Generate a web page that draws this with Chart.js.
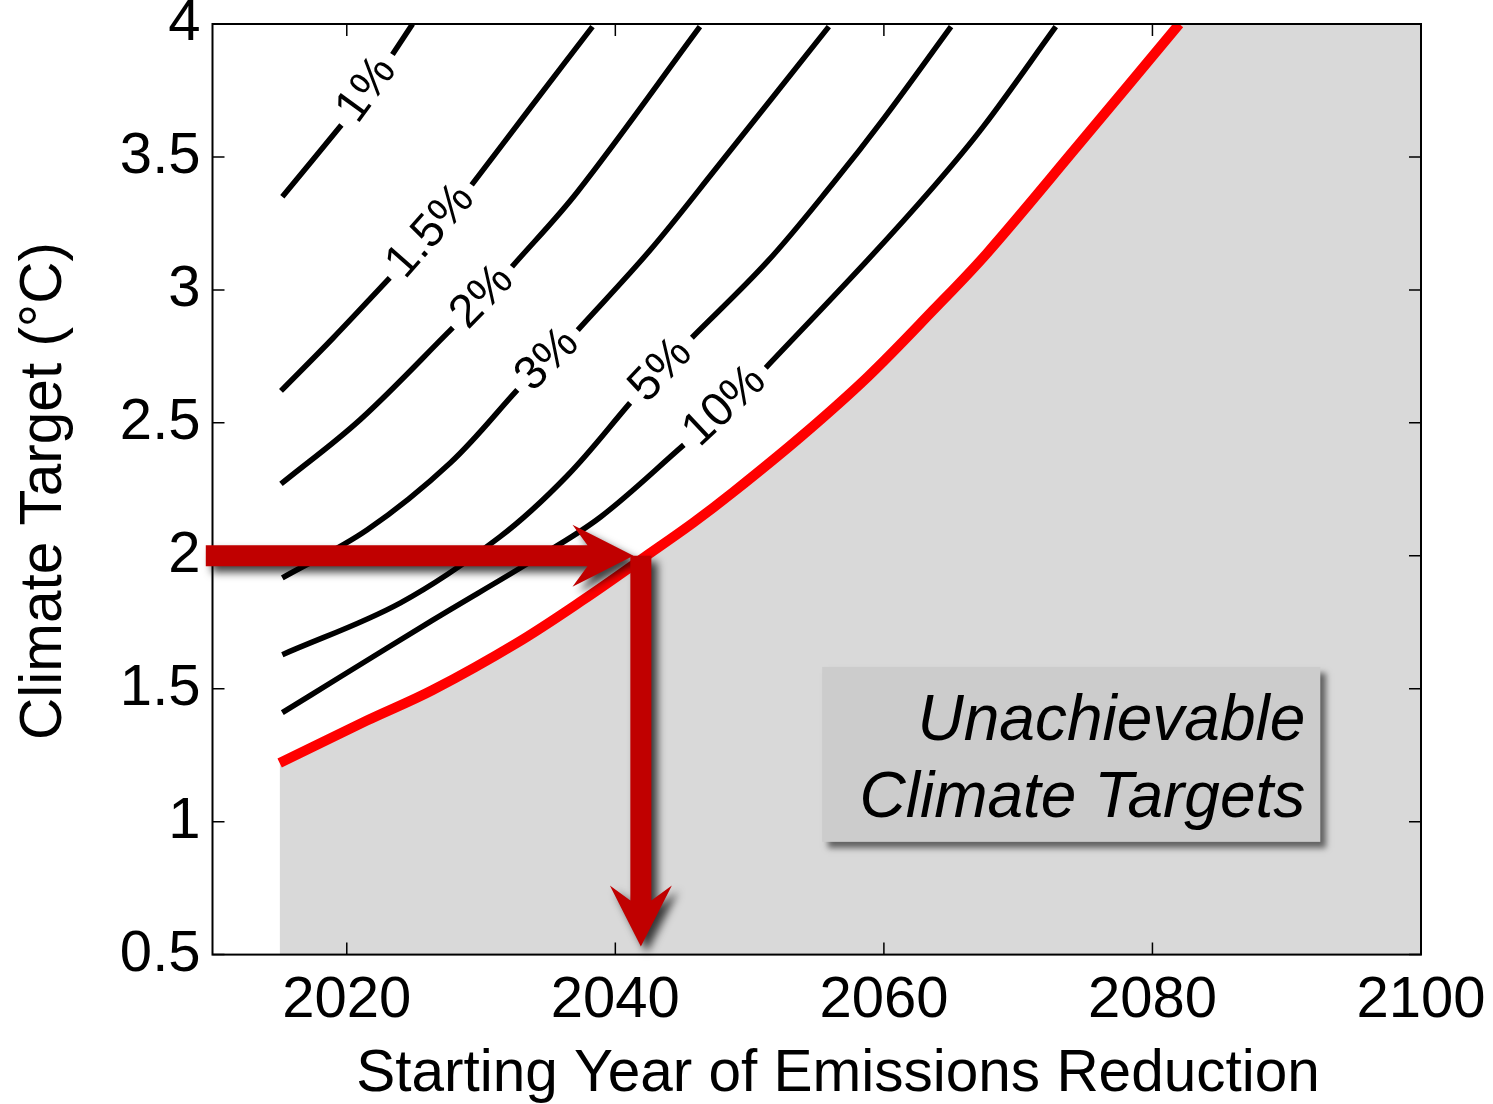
<!DOCTYPE html>
<html>
<head>
<meta charset="utf-8">
<script src="https://cdn.jsdelivr.net/npm/chart.js@4.4.1/dist/chart.umd.min.js"></script>
<style>
  html, body { margin: 0; padding: 0; background: #fff; }
</style>
</head>
<body>
<canvas id="chart" width="1493" height="1104"></canvas>
<script>
const FONT = '"Liberation Sans", Arial, Helvetica, sans-serif';

const xTicks = [2020, 2040, 2060, 2080, 2100];
const yTicks = [0.5, 1, 1.5, 2, 2.5, 3, 3.5, 4];
const contourLabels = ['1%', '1.5%', '2%', '3%', '5%', '10%'];

// contour lines: null marks where the inline label sits
const rate1Years = [2015.2, 2019.6, 2021.5, 2023.4, 2024.9];
const rate1Temps = [3.35, 3.62, null, 3.885, 4.0];

const rate15Years = [2015.1, 2019.0, 2023.2, 2026.3, 2029.3, 2033.9, 2038.3];
const rate15Temps = [2.62, 2.82, 3.045, null, 3.395, 3.70, 3.99];

const rate2Years = [2015.1, 2021.0, 2027.9, 2030.1, 2032.3, 2037.2, 2046.3];
const rate2Temps = [2.27, 2.512, 2.858, null, 3.087, 3.37, 3.99];

const rate3Years = [2015.2, 2021.5, 2027.7, 2032.7, 2035.0, 2037.2, 2042.6, 2047.6, 2055.9];
const rate3Temps = [1.917, 2.097, 2.349, 2.624, null, 2.849, 3.15, 3.463, 3.99];

const rate5Years = [2015.2, 2024.0, 2031.4, 2036.4, 2041.1, 2043.4, 2045.7, 2051.3, 2056.2, 2060.0, 2065.0];
const rate5Temps = [1.628, 1.823, 2.071, 2.30, 2.575, null, 2.82, 3.105, 3.40, 3.645, 3.99];

const rate10Years = [2015.2, 2019.5, 2026.4, 2033.9, 2038.9, 2045.1, 2048.1, 2051.2, 2058.8, 2063.7, 2067.4, 2072.8];
const rate10Temps = [1.41, 1.544, 1.758, 1.984, 2.146, 2.417, null, 2.707, 3.113, 3.388, 3.614, 3.99];

// achievable limit (red); everything below / right of it is unachievable
const limitYears = [2015.0, 2021.5, 2026.4, 2032.7, 2037.6, 2042.2, 2045.8, 2048.8, 2053.8, 2058.8, 2063.7, 2067.7, 2074.4, 2082.0];
const limitTemps = [1.221, 1.38, 1.495, 1.673, 1.834, 1.996, 2.124, 2.24, 2.447, 2.673, 2.925, 3.139, 3.54, 4.0];
const lateYears = [2081.6, 2100];
const lateTemps = [4.0, 4.0];

// annotation anchors (data units)
const arrowCorner = { year: 2041.9, temp: 2.0 };
const arrowStartYear = 2009.5;
const arrowTipYear = 2041.35;
const arrowEndTemp = 0.53;
const noteBox = { from: 2055.4, to: 2092.5, top: 1.582, bottom: 0.924 };
const noteLines = ['Unachievable', 'Climate Targets'];

const contours = [
  [rate1Years, rate1Temps], [rate15Years, rate15Temps], [rate2Years, rate2Temps],
  [rate3Years, rate3Temps], [rate5Years, rate5Temps], [rate10Years, rate10Temps]
];
const toPoints = (xs, ys) => xs.map((v, i) => ({ x: v, y: ys[i] }));

const GRAY = '#d9d9d9';
const datasets = [{
  // red limit, filled down to the x axis
  data: toPoints(limitYears, limitTemps),
  fill: 'start',
  backgroundColor: GRAY,
  borderColor: '#ff0000',
  borderWidth: 10,
  pointRadius: 0,
  tension: 0.35,
  order: 0,
  clip: 0
}, {
  // rest of the unachievable area after the red line leaves the top
  data: toPoints(lateYears, lateTemps),
  fill: 'start',
  backgroundColor: GRAY,
  borderWidth: 0,
  borderColor: GRAY,
  pointRadius: 0,
  tension: 0,
  order: 5,
  clip: 0
}];
contours.forEach(([xs, ys]) => {
  datasets.push({
    data: toPoints(xs, ys),
    fill: false,
    borderColor: '#000',
    borderWidth: 5.5,
    pointRadius: 0,
    spanGaps: false,
    tension: 0.35,
    order: 1,
    clip: 0
  });
});

function drawArrowPath(ctx, pts) {
  ctx.beginPath();
  pts.forEach(([px, py], i) => i ? ctx.lineTo(px, py) : ctx.moveTo(px, py));
  ctx.closePath();
  ctx.fill();
}

const overlayPlugin = {
  id: 'overlay',
  afterDatasetsDraw(chart) {
    const { ctx, chartArea: area, scales: { x, y } } = chart;

    // inline contour labels
    ctx.save();
    ctx.font = `47px ${FONT}`;
    ctx.fillStyle = '#000';
    ctx.textAlign = 'center';
    ctx.textBaseline = 'middle';
    contours.forEach(([xs, ys], k) => {
      const g = ys.indexOf(null);
      const ax = x.getPixelForValue(xs[g - 1]), ay = y.getPixelForValue(ys[g - 1]);
      const bx = x.getPixelForValue(xs[g + 1]), by = y.getPixelForValue(ys[g + 1]);
      ctx.save();
      ctx.translate((ax + bx) / 2, (ay + by) / 2);
      ctx.rotate(Math.atan2(by - ay, bx - ax));
      ctx.fillText(contourLabels[k], 0, 0);
      ctx.restore();
    });
    ctx.restore();

    // frame with inward ticks
    ctx.save();
    ctx.strokeStyle = '#000';
    ctx.lineWidth = 2;
    ctx.strokeRect(area.left, area.top, area.width, area.height);
    ctx.lineWidth = 1.5;
    ctx.beginPath();
    xTicks.forEach(v => {
      const px = x.getPixelForValue(v);
      ctx.moveTo(px, area.bottom); ctx.lineTo(px, area.bottom - 12);
      ctx.moveTo(px, area.top); ctx.lineTo(px, area.top + 12);
    });
    yTicks.forEach(v => {
      const py = y.getPixelForValue(v);
      ctx.moveTo(area.left, py); ctx.lineTo(area.left + 12, py);
      ctx.moveTo(area.right, py); ctx.lineTo(area.right - 12, py);
    });
    ctx.stroke();
    ctx.restore();

    // note box
    const l = x.getPixelForValue(noteBox.from), r = x.getPixelForValue(noteBox.to);
    const t = y.getPixelForValue(noteBox.top), b = y.getPixelForValue(noteBox.bottom);
    ctx.save();
    ctx.shadowColor = 'rgba(0,0,0,0.55)';
    ctx.shadowBlur = 6;
    ctx.shadowOffsetX = 6;
    ctx.shadowOffsetY = 6;
    ctx.fillStyle = '#cccccc';
    ctx.fillRect(l, t, r - l, b - t);
    ctx.restore();
    ctx.save();
    ctx.font = `italic 64px ${FONT}`;
    ctx.fillStyle = '#000';
    ctx.textAlign = 'right';
    ctx.textBaseline = 'alphabetic';
    ctx.fillText(noteLines[0], r - 15, t + 73);
    ctx.fillText(noteLines[1], r - 15, t + 150);
    ctx.restore();

    // arrows
    const cx = x.getPixelForValue(arrowCorner.year);
    const cy = y.getPixelForValue(arrowCorner.temp);
    const x0 = x.getPixelForValue(arrowStartYear);
    const tipX = x.getPixelForValue(arrowTipYear);
    const tipY = y.getPixelForValue(arrowEndTemp);
    const hw = 10.5, head = 61, barb = 31, notch = 15;
    ctx.save();
    ctx.fillStyle = '#c00000';
    ctx.shadowColor = 'rgba(0,0,0,0.75)';
    ctx.shadowBlur = 9;
    ctx.shadowOffsetX = 6;
    ctx.shadowOffsetY = 6;
    drawArrowPath(ctx, [
      [x0, cy - hw], [tipX - head + notch, cy - hw], [tipX - head, cy - barb],
      [tipX, cy], [tipX - head, cy + barb], [tipX - head + notch, cy + hw], [x0, cy + hw]
    ]);
    drawArrowPath(ctx, [
      [cx - hw, cy], [cx + hw, cy], [cx + hw, tipY - head + notch], [cx + barb, tipY - head],
      [cx, tipY], [cx - barb, tipY - head], [cx - hw, tipY - head + notch]
    ]);
    ctx.restore();

    // axis titles
    ctx.save();
    ctx.fillStyle = '#000';
    ctx.font = `58.5px ${FONT}`;
    ctx.textAlign = 'center';
    ctx.textBaseline = 'alphabetic';
    ctx.fillText('Starting Year of Emissions Reduction', 838, 1091);
    ctx.translate(61, 491);
    ctx.rotate(-Math.PI / 2);
    ctx.fillText('Climate Target (\u00B0C)', 0, 0);
    ctx.restore();
  }
};

new Chart(document.getElementById('chart'), {
  type: 'line',
  data: { datasets },
  options: {
    responsive: false,
    animation: false,
    layout: { autoPadding: false, padding: { top: 24, right: 72, left: 0, bottom: 0 } },
    plugins: { legend: { display: false }, tooltip: { enabled: false } },
    scales: {
      x: {
        type: 'linear',
        min: 2010,
        max: 2100,
        afterBuildTicks: s => { s.ticks = xTicks.map(v => ({ value: v })); },
        afterFit: s => {
          s.height = 149.4;
          s.paddingLeft = 0;
          s.paddingRight = 0;
        },
        grid: { display: false, drawTicks: false },
        border: { display: false },
        ticks: {
          color: '#000',
          padding: 17,
          maxRotation: 0,
          autoSkip: false,
          font: { family: FONT, size: 58, lineHeight: 1 },
          callback: v => String(v)
        }
      },
      y: {
        type: 'linear',
        min: 0.5,
        max: 4,
        afterBuildTicks: s => { s.ticks = yTicks.map(v => ({ value: v })); },
        afterFit: s => {
          s.width = 212.5;
          s.paddingTop = 0;
          s.paddingBottom = 0;
        },
        grid: { display: false, drawTicks: false },
        border: { display: false },
        ticks: {
          color: '#000',
          padding: 12,
          autoSkip: false,
          font: { family: FONT, size: 58, lineHeight: 0.8 },
          callback: v => String(v)
        }
      }
    }
  },
  plugins: [overlayPlugin]
});
</script>
</body>
</html>
